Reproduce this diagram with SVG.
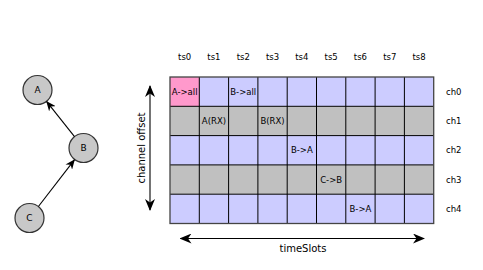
<svg xmlns="http://www.w3.org/2000/svg" width="483" height="270" viewBox="0 0 483 270">
<style>
  text { font-family: "DejaVu Sans", "Liberation Sans", sans-serif; fill: #000; }
  .lbl { font-size: 8.5px; }
  .cell { font-size: 8.5px; text-anchor: middle; }
  .axis { font-size: 10px; text-anchor: middle; }
  .node circle { fill: #c8c8c8; stroke: #333; stroke-width: 1.2; }
  .node text { font-size: 9px; text-anchor: middle; }
  .blue { fill: #ccccff; }
  .gray { fill: #c0c0c0; }
  .pink { fill: #ff99cc; }
  .grid line { stroke: #000; stroke-width: 1; }
  .conn line { stroke: #000; stroke-width: 1.1; fill: none; }
</style>
<defs>
  <marker id="ah" viewBox="0 0 12 10" refX="11" refY="5" markerWidth="12" markerHeight="10" markerUnits="userSpaceOnUse" orient="auto-start-reverse">
    <path d="M12,5 L0,0 L3.5,5 L0,10 Z" fill="#000"/>
  </marker>
  <marker id="ahs" viewBox="0 0 12 10" refX="11" refY="5" markerWidth="10" markerHeight="8.5" markerUnits="userSpaceOnUse" orient="auto">
    <path d="M12,5 L0,0 L3.5,5 L0,10 Z" fill="#000"/>
  </marker>
</defs>

<g id="nodeA" class="node"><circle cx="37.5" cy="90" r="14.5"/><text x="37.5" y="93.2">A</text></g>
<g id="nodeB" class="node"><circle cx="83.5" cy="148" r="14.5"/><text x="83.5" y="151.2">B</text></g>
<g id="nodeC" class="node"><circle cx="29.5" cy="218" r="14.5"/><text x="29.5" y="221.2">C</text></g>

<g id="connectors" class="conn">
  <line x1="74.5" y1="136.6" x2="46.7" y2="101.6" marker-end="url(#ahs)"/>
  <line x1="38.4" y1="206.5" x2="74.4" y2="159.8" marker-end="url(#ahs)"/>
  <line x1="150" y1="86" x2="150" y2="210" marker-start="url(#ah)" marker-end="url(#ah)"/>
  <line x1="180.5" y1="238.5" x2="424" y2="238.5" marker-start="url(#ah)" marker-end="url(#ah)"/>
</g>

<text class="axis" transform="translate(145,148) rotate(-90)">channel offset</text>
<text class="axis" x="303" y="251.5">timeSlots</text>

<g id="grid">
  <rect class="blue" x="170" y="77" width="263.7" height="29.3"/>
  <rect class="gray" x="170" y="106.3" width="263.7" height="29.3"/>
  <rect class="blue" x="170" y="135.6" width="263.7" height="29.3"/>
  <rect class="gray" x="170" y="164.9" width="263.7" height="29.3"/>
  <rect class="blue" x="170" y="194.2" width="263.7" height="29.3"/>
  <rect class="pink" x="170" y="77" width="29.3" height="29.3"/>
  <g class="grid">
    <line x1="199.3" y1="77" x2="199.3" y2="223.5"/>
    <line x1="228.6" y1="77" x2="228.6" y2="223.5"/>
    <line x1="257.9" y1="77" x2="257.9" y2="223.5"/>
    <line x1="287.2" y1="77" x2="287.2" y2="223.5"/>
    <line x1="316.5" y1="77" x2="316.5" y2="223.5"/>
    <line x1="345.8" y1="77" x2="345.8" y2="223.5"/>
    <line x1="375.1" y1="77" x2="375.1" y2="223.5"/>
    <line x1="404.4" y1="77" x2="404.4" y2="223.5"/>
    <line x1="170" y1="106.3" x2="433.7" y2="106.3"/>
    <line x1="170" y1="135.6" x2="433.7" y2="135.6"/>
    <line x1="170" y1="164.9" x2="433.7" y2="164.9"/>
    <line x1="170" y1="194.2" x2="433.7" y2="194.2"/>
  </g>
  <rect x="170" y="77" width="263.7" height="146.5" fill="none" stroke="#444" stroke-width="1.3"/>
</g>

<g id="colLabels" class="cell">
  <text x="184.65" y="59.5">ts0</text>
  <text x="213.95" y="59.5">ts1</text>
  <text x="243.25" y="59.5">ts2</text>
  <text x="272.55" y="59.5">ts3</text>
  <text x="301.85" y="59.5">ts4</text>
  <text x="331.15" y="59.5">ts5</text>
  <text x="360.45" y="59.5">ts6</text>
  <text x="389.75" y="59.5">ts7</text>
  <text x="419.05" y="59.5">ts8</text>
</g>

<g id="rowLabels" class="lbl">
  <text x="446" y="94.8">ch0</text>
  <text x="446" y="124.1">ch1</text>
  <text x="446" y="153.4">ch2</text>
  <text x="446" y="182.7">ch3</text>
  <text x="446" y="212">ch4</text>
</g>

<g id="cellLabels" class="cell">
  <text x="184.65" y="94.8">A-&gt;all</text>
  <text x="243.25" y="94.8">B-&gt;all</text>
  <text x="213.95" y="124.1">A(RX)</text>
  <text x="272.55" y="124.1">B(RX)</text>
  <text x="301.85" y="153.4">B-&gt;A</text>
  <text x="331.15" y="182.7">C-&gt;B</text>
  <text x="360.45" y="212">B-&gt;A</text>
</g>
</svg>
